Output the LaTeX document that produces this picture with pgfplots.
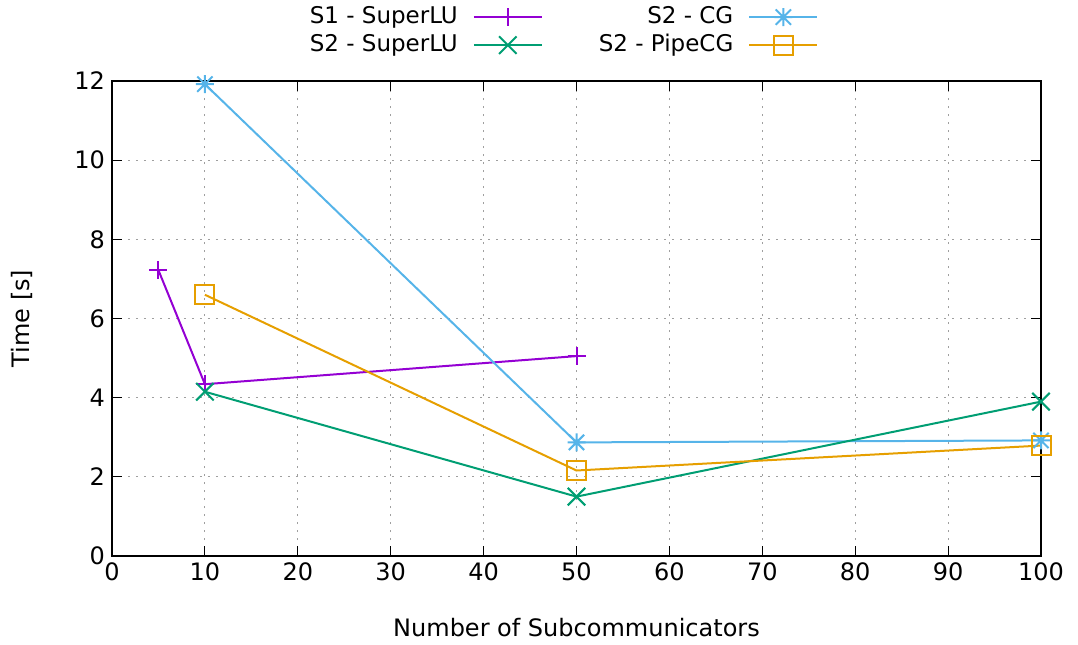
\documentclass[border=0pt]{standalone}
\usepackage{fontspec}
\setmainfont{DejaVu Sans}
\usepackage{pgfplots}
\pgfplotsset{compat=1.18}
\definecolor{cS1}{HTML}{9400D3}
\definecolor{cS2}{HTML}{009E73}
\definecolor{cCG}{HTML}{56B4E9}
\definecolor{cPipe}{HTML}{E69F00}
\pgfdeclareplotmark{gpstar}{%
  \pgfpathmoveto{\pgfqpoint{0pt}{\pgfplotmarksize}}%
  \pgfpathlineto{\pgfqpoint{0pt}{-\pgfplotmarksize}}%
  \pgfpathmoveto{\pgfqpoint{\pgfplotmarksize}{0pt}}%
  \pgfpathlineto{\pgfqpoint{-\pgfplotmarksize}{0pt}}%
  \pgfpathmoveto{\pgfqpoint{0.85\pgfplotmarksize}{0.85\pgfplotmarksize}}%
  \pgfpathlineto{\pgfqpoint{-0.85\pgfplotmarksize}{-0.85\pgfplotmarksize}}%
  \pgfpathmoveto{\pgfqpoint{0.85\pgfplotmarksize}{-0.85\pgfplotmarksize}}%
  \pgfpathlineto{\pgfqpoint{-0.85\pgfplotmarksize}{0.85\pgfplotmarksize}}%
  \pgfusepathqstroke}
\begin{document}
\begin{tikzpicture}
\begin{axis}[
  scale only axis,
  width=464.5pt, height=237.5pt,
  xmin=0, xmax=100, ymin=0, ymax=12,
  xtick={0,10,...,100}, ytick={0,2,...,12},
  grid=major,
  grid style={dash pattern=on 0.8pt off 3.2pt, gray!75, line width=0.6pt},
  axis line style={line width=0.6pt},
  tick style={black, line width=0.6pt},
  major tick length=5pt,
  /pgf/number format/assume math mode=true,
  tick label style={font=\fontsize{12}{14}\selectfont},
  label style={font=\fontsize{12}{14}\selectfont},
  xlabel={Number of Subcommunicators},
  ylabel={Time [s]},
  xlabel style={at={(axis description cs:0.5,-0.1516)}, anchor=center},
  ylabel style={at={(axis description cs:-0.0969,0.5)}, anchor=center},
  legend style={at={(axis description cs:0.4866,1.105)}, anchor=center, draw=none, fill=none,
    font=\fontsize{11.5}{14}\selectfont, legend columns=2,
    nodes={text height=9pt, text depth=2.5pt, inner ysep=1.25pt, inner xsep=0pt},
    /tikz/every odd column/.append style={column sep=7.5pt},
    /tikz/every even column/.append style={column sep=28pt},
    row sep=0pt},
  legend cell align=right,
  legend plot pos=right,
  legend image code/.code={\draw[mark repeat=2,mark phase=2] plot coordinates {(0pt,0pt) (17pt,0pt) (34pt,0pt)};},
  every axis plot/.append style={line width=1pt},
]
\addplot[cS1, mark=+, mark size=4.5pt, mark options={line width=1pt}] coordinates {(5,7.22) (10,4.34) (50,5.05)};
\addlegendentry{S1 - SuperLU}
\addplot[cCG, mark=gpstar, mark size=4.5pt, mark options={line width=1pt}] coordinates {(10,11.92) (50,2.87) (100,2.92)};
\addlegendentry{S2 - CG}
\addplot[cS2, mark=x, mark size=6.2pt, mark options={line width=1pt}] coordinates {(10,4.15) (50,1.50) (100,3.90)};
\addlegendentry{S2 - SuperLU}
\addplot[cPipe, mark=square, mark size=4.75pt, mark options={line width=1pt}] coordinates {(10,6.60) (50,2.16) (100,2.79)};
\addlegendentry{S2 - PipeCG}
\end{axis}
\pgfresetboundingbox
\useasboundingbox (-56pt,-44pt) rectangle (483pt,278pt);
\end{tikzpicture}
\end{document}
